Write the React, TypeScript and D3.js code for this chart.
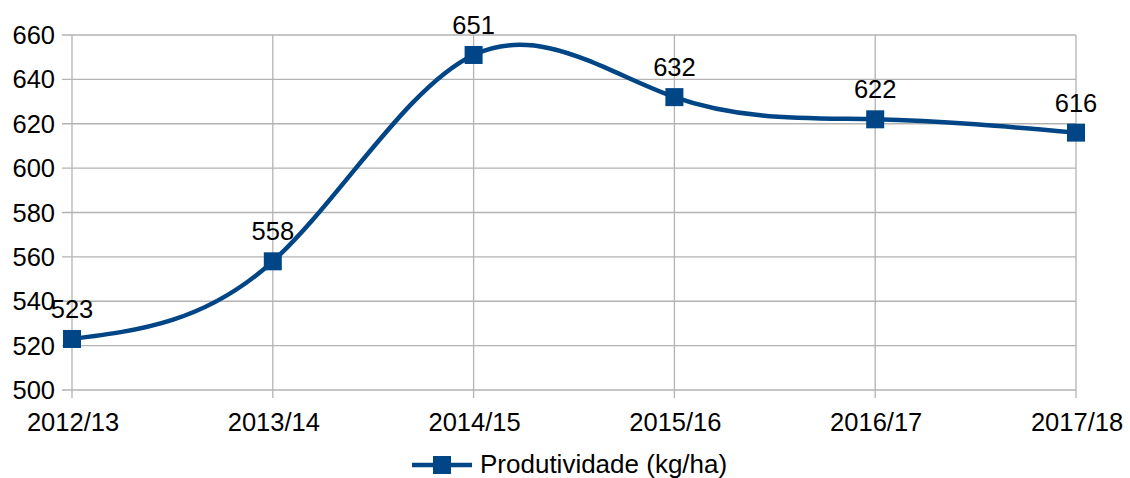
import * as d3 from "d3";
import React, { useEffect, useRef } from "react";

const categories = ["2012/13", "2013/14", "2014/15", "2015/16", "2016/17", "2017/18"];
const values = [523, 558, 651, 632, 622, 616];
const yTicks = [500, 520, 540, 560, 580, 600, 620, 640, 660];
const seriesName = "Produtividade (kg/ha)";

const W = 1130;
const H = 478;
const color = "#004586";
const gridColor = "#b3b3b3";
const font = "'Liberation Sans', Arial, sans-serif";
const fs = 25.5;

const App: React.FC = () => {
  const svgRef = useRef<SVGSVGElement>(null);

  useEffect(() => {
    const svg = d3.select(svgRef.current);
    svg.selectAll("*").remove();

    const x = d3
      .scalePoint<string>()
      .domain(categories)
      .range([72, 1076]);
    const y = d3.scaleLinear().domain([500, 660]).range([390, 35]);

    // horizontal grid + y labels
    const gy = svg.append("g");
    gy.selectAll("line")
      .data(yTicks)
      .join("line")
      .attr("x1", 62)
      .attr("x2", 1076)
      .attr("y1", (d) => y(d))
      .attr("y2", (d) => y(d))
      .attr("stroke", gridColor)
      .attr("stroke-width", 1.3);
    gy.selectAll("text")
      .data(yTicks)
      .join("text")
      .attr("x", 55)
      .attr("y", (d) => y(d) + 9)
      .attr("text-anchor", "end")
      .attr("font-family", font)
      .attr("font-size", fs)
      .attr("fill", "#000")
      .text((d) => d);

    // vertical grid + x labels
    const gx = svg.append("g");
    gx.selectAll("line")
      .data(categories)
      .join("line")
      .attr("x1", (d) => x(d)!)
      .attr("x2", (d) => x(d)!)
      .attr("y1", 35)
      .attr("y2", 398)
      .attr("stroke", gridColor)
      .attr("stroke-width", 1.3);
    gx.selectAll("text")
      .data(categories)
      .join("text")
      .attr("x", (d) => x(d)! + 1)
      .attr("y", 431)
      .attr("text-anchor", "middle")
      .attr("font-family", font)
      .attr("font-size", fs)
      .attr("fill", "#000")
      .text((d) => d);

    const line = d3
      .line<number>()
      .x((_, i) => x(categories[i])!)
      .y((d) => y(d))
      .curve(d3.curveNatural);

    svg
      .append("path")
      .attr("d", line(values))
      .attr("fill", "none")
      .attr("stroke", color)
      .attr("stroke-width", 4.5);

    const s = 18;
    svg
      .append("g")
      .selectAll("rect")
      .data(values)
      .join("rect")
      .attr("x", (_, i) => x(categories[i])! - s / 2)
      .attr("y", (d) => y(d) - s / 2)
      .attr("width", s)
      .attr("height", s)
      .attr("fill", color);

    svg
      .append("g")
      .selectAll("text")
      .data(values)
      .join("text")
      .attr("x", (_, i) => x(categories[i])!)
      .attr("y", (d) => y(d) - 21)
      .attr("text-anchor", "middle")
      .attr("font-family", font)
      .attr("font-size", fs)
      .attr("fill", "#000")
      .text((d) => d);

    // legend
    const lg = svg.append("g");
    lg.append("line")
      .attr("x1", 412)
      .attr("x2", 472)
      .attr("y1", 465)
      .attr("y2", 465)
      .attr("stroke", color)
      .attr("stroke-width", 4.5);
    lg.append("rect")
      .attr("x", 442 - s / 2)
      .attr("y", 465 - s / 2)
      .attr("width", s)
      .attr("height", s)
      .attr("fill", color);
    lg.append("text")
      .attr("x", 480)
      .attr("y", 473)
      .attr("font-family", font)
      .attr("font-size", 26)
      .attr("fill", "#000")
      .text(seriesName);
  }, []);

  return (
    <div style={{ position: "absolute", left: 0, top: 0, width: W, height: H, overflow: "hidden" }}>
      <svg ref={svgRef} width={W} height={H} style={{ display: "block", background: "#fff" }} />
    </div>
  );
};

export default App;
